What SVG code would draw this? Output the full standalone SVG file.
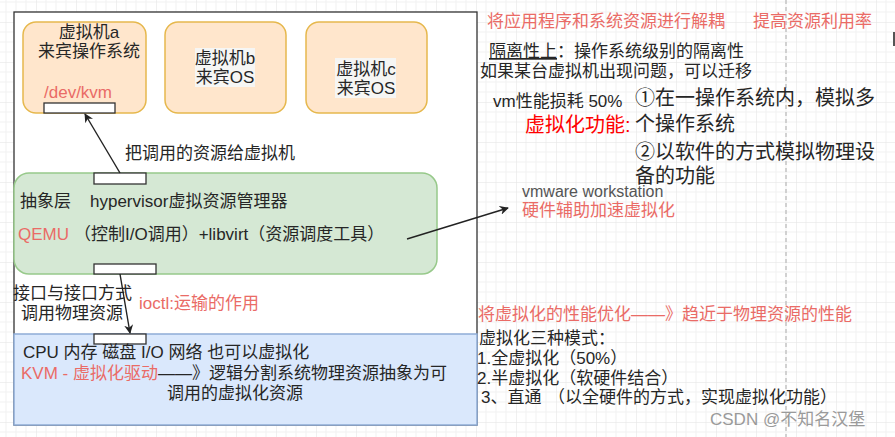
<svg xmlns="http://www.w3.org/2000/svg" width="895" height="437" viewBox="0 0 895 437">
<style>
text{font-family:"Liberation Sans","Noto Sans CJK SC",sans-serif;font-size:17px;fill:#262626}
.red{fill:#ea6b66}
.big{font-size:20px}
.gray{fill:#555}
.wm{fill:#9a9a9a}
.mid{text-anchor:middle}
.port{fill:#fff;stroke:#333;stroke-width:1.3}
.vm{fill:#ffe6cc;stroke:#e6b84d;stroke-width:1.5}
.conn{stroke:#222;stroke-width:1.4;fill:none}
</style>
<defs>
<pattern id="grid" patternUnits="userSpaceOnUse" x="36" y="22" width="40" height="40">
<path d="M10 0V40M20 0V40M30 0V40M0 10H40M0 20H40M0 30H40" stroke="#f1f1f1" stroke-width="1" fill="none"/>
<path d="M0 0V40M0 0H40" stroke="#e2e2e2" stroke-width="1" fill="none"/>
</pattern>
<marker id="arr" viewBox="0 0 10 10" refX="9" refY="5" markerWidth="9" markerHeight="9" markerUnits="userSpaceOnUse" orient="auto">
<path d="M0 0L10 5L0 10L3 5Z" fill="#222"/>
</marker>
</defs>
<rect width="895" height="437" fill="#fff"/>
<rect width="895" height="437" fill="url(#grid)"/>
<line x1="786" y1="0" x2="786" y2="437" stroke="#c4c4c4" stroke-width="1.5" stroke-dasharray="4,3"/>
<rect x="893" y="32" width="2" height="14" fill="#555"/>

<g id="host">
<rect x="14" y="12" width="463" height="413" fill="#fff" stroke="#333" stroke-width="1.3"/>
</g>

<g id="vm-a">
<rect class="vm" x="23" y="22" width="123" height="91" rx="13"/>
<text class="mid" x="89" y="38">虚拟机a</text>
<text class="mid" x="89" y="57">来宾操作系统</text>
<text class="red" x="44" y="98">/dev/kvm</text>
<rect class="port" x="44" y="103" width="71" height="10"/>
</g>

<g id="vm-b">
<rect class="vm" x="165" y="22" width="121" height="91" rx="13"/>
<rect x="195" y="48" width="60" height="39" fill="#f6f6f4"/>
<text class="mid" x="225" y="64">虚拟机b</text>
<text class="mid" x="225" y="83">来宾OS</text>
</g>

<g id="vm-c">
<rect class="vm" x="306" y="22" width="121" height="91" rx="13"/>
<rect x="335" y="58" width="61" height="40" fill="#f6f6f4"/>
<text class="mid" x="366" y="75">虚拟机c</text>
<text class="mid" x="366" y="94">来宾OS</text>
</g>

<g id="hypervisor">
<rect x="14" y="173" width="423" height="101" rx="15" fill="#d5e8d4" stroke="#97c98a" stroke-width="1.5"/>
<rect class="port" x="94" y="173" width="52" height="11"/>
<text x="20" y="207">抽象层<tspan x="90">hypervisor虚拟资源管理器</tspan></text>
<text x="18" y="240"><tspan class="red">QEMU</tspan><tspan x="74">（控制I/O调用）+libvirt（资源调度工具）</tspan></text>
<rect class="port" x="94" y="264" width="62" height="10"/>
</g>

<g id="kvm">
<rect x="14" y="334" width="463" height="91" fill="#dae8fc" stroke="#8eacd6" stroke-width="1.5"/>
<rect class="port" x="94" y="334" width="52" height="10"/>
<text x="23" y="358">CPU 内存 磁盘 I/O 网络 也可以虚拟化</text>
<text x="21" y="379"><tspan class="red">KVM - 虚拟化驱动</tspan>——》逻辑分割系统物理资源抽象为可</text>
<text class="mid" x="235" y="399">调用的虚拟化资源</text>
</g>

<g id="connectors">
<line class="conn" x1="120" y1="173" x2="85" y2="114" marker-end="url(#arr)"/>
<line class="conn" x1="120" y1="274" x2="130" y2="333" marker-end="url(#arr)"/>
<line class="conn" x1="407" y1="239" x2="508" y2="208" marker-end="url(#arr)"/>
</g>

<g id="labels">
<text x="125" y="159">把调用的资源给虚拟机</text>
<text x="13" y="299">接口与接口方式</text>
<text class="mid" x="72" y="319">调用物理资源</text>
<text class="red" x="139" y="309">ioctl:运输的作用</text>
</g>

<g id="notes">
<text class="red" x="487" y="27">将应用程序和系统资源进行解耦</text>
<text class="red" x="753" y="27">提高资源利用率</text>
<text x="489" y="57"><tspan text-decoration="underline">隔离性上</tspan>：操作系统级别的隔离性</text>
<text x="480" y="77">如果某台虚拟机出现问题，可以迁移</text>
<text x="493" y="107">vm性能损耗 50%</text>
<text class="big" x="525" y="132" style="fill:#f00">虚拟化功能:</text>
<text class="big" x="635" y="105">①在一操作系统内，模拟多</text>
<text class="big" x="635" y="131">个操作系统</text>
<text class="big" x="635" y="159">②以软件的方式模拟物理设</text>
<text class="big" x="635" y="183">备的功能</text>
<text class="gray" x="522" y="197" style="font-size:16px">vmware workstation</text>
<text class="red" x="522" y="216">硬件辅助加速虚拟化</text>
<text class="red" x="478" y="320">将虚拟化的性能优化——》趋近于物理资源的性能</text>
<text x="479" y="344">虚拟化三种模式：</text>
<text x="477" y="364">1.全虚拟化（50%）</text>
<text x="477" y="384">2.半虚拟化（软硬件结合）</text>
<text x="481" y="403">3、直通<tspan x="548">（以全硬件的方式，实现虚拟化功能）</tspan></text>
<text class="wm" x="710" y="425">CSDN @不知名汉堡</text>
</g>
</svg>
